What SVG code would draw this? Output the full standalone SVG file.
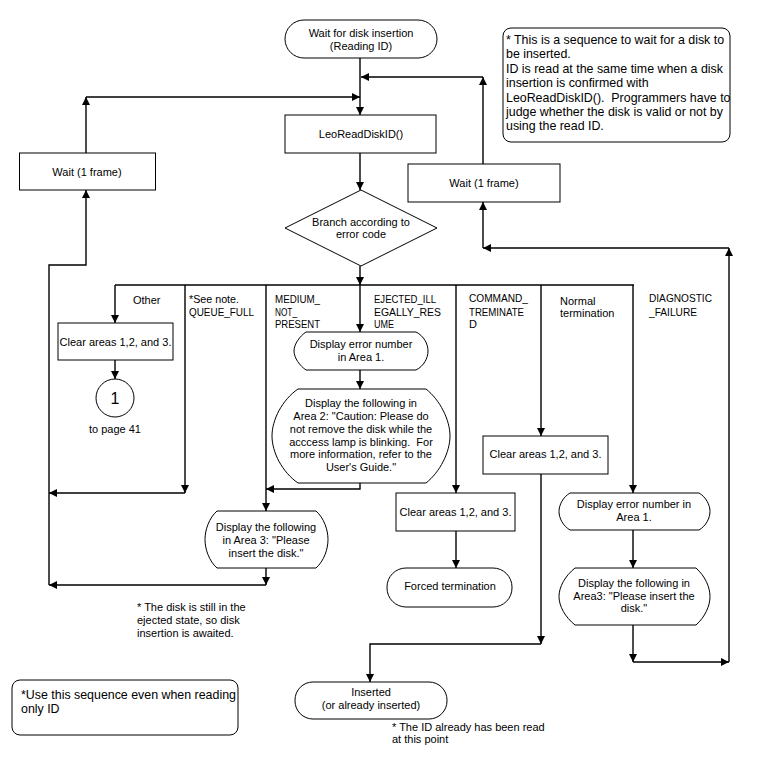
<svg xmlns="http://www.w3.org/2000/svg" width="757" height="763" viewBox="0 0 757 763">
<style>
.s{fill:#fff;stroke:#000;stroke-width:1}
.c{fill:none;stroke:#000;stroke-width:1.4}
.t{font-family:"Liberation Sans",Arial,sans-serif;font-size:11px;fill:#000}
.m{text-anchor:middle}
.n{font-family:"Liberation Sans",Arial,sans-serif;font-size:12.4px;fill:#000}
</style>
<defs>
<marker id="a" markerUnits="userSpaceOnUse" markerWidth="9" markerHeight="8" refX="8" refY="4" orient="auto">
<path d="M0,0 L8,4 L0,8 Z" fill="#000"/>
</marker>
</defs>
<rect width="757" height="763" fill="#fff"/>
<g id="connectors">
<path class="c" d="M360,58 V115" marker-end="url(#a)"/>
<path class="c" d="M483,164 V77" marker-end="url(#a)"/>
<path class="c" d="M483,77 H361" marker-end="url(#a)"/>
<path class="c" d="M86,153 V97" marker-end="url(#a)"/>
<path class="c" d="M86,97 H360" marker-end="url(#a)"/>
<path class="c" d="M360,153 V190" marker-end="url(#a)"/>
<path class="c" d="M360,266 V285" marker-end="url(#a)"/>
<path class="c" d="M115,285 H634"/>
<path class="c" d="M115,285 V323" marker-end="url(#a)"/>
<path class="c" d="M115,360 V379" marker-end="url(#a)"/>
<path class="c" d="M185,285 V493" marker-end="url(#a)"/>
<path class="c" d="M185,493 H49" marker-end="url(#a)"/>
<path class="c" d="M266,285 V511" marker-end="url(#a)"/>
<path class="c" d="M360,285 V332" marker-end="url(#a)"/>
<path class="c" d="M360,370 V389" marker-end="url(#a)"/>
<path class="c" d="M360,483 V489 H266" marker-end="url(#a)"/>
<path class="c" d="M266,568 V585" marker-end="url(#a)"/>
<path class="c" d="M266,585 H49" marker-end="url(#a)"/>
<path class="c" d="M49,585 V265 H86 V190" marker-end="url(#a)"/>
<path class="c" d="M456,285 V493" marker-end="url(#a)"/>
<path class="c" d="M456,531 V568" marker-end="url(#a)"/>
<path class="c" d="M541,285 V436" marker-end="url(#a)"/>
<path class="c" d="M541,474 V644" marker-end="url(#a)"/>
<path class="c" d="M541,644 H370 V682" marker-end="url(#a)"/>
<path class="c" d="M633,285 V493" marker-end="url(#a)"/>
<path class="c" d="M633,530 V568" marker-end="url(#a)"/>
<path class="c" d="M633,625 V662" marker-end="url(#a)"/>
<path class="c" d="M633,662 H729" marker-end="url(#a)"/>
<path class="c" d="M729,662 V248" marker-end="url(#a)"/>
<path class="c" d="M729,248 H483" marker-end="url(#a)"/>
<path class="c" d="M483,248 V202" marker-end="url(#a)"/>
</g>
<g id="start">
<rect class="s" x="285" y="20" width="152" height="38" rx="19"/>
<text class="t m" x="361" y="37">Wait for disk insertion</text>
<text class="t m" x="361" y="50">(Reading ID)</text>
</g>
<g id="note-top">
<rect class="s" x="503" y="28" width="227" height="114" rx="8"/>
<text class="n" x="506" y="44">* This is a sequence to wait for a disk to</text>
<text class="n" x="506" y="58.4">be inserted.</text>
<text class="n" x="506" y="72.8">ID is read at the same time when a disk</text>
<text class="n" x="506" y="87.2">insertion is confirmed with</text>
<text class="n" x="506" y="101.6" xml:space="preserve">LeoReadDiskID().  Programmers have to</text>
<text class="n" x="506" y="116">judge whether the disk is valid or not by</text>
<text class="n" x="506" y="130.4">using the read ID.</text>
</g>
<g id="read">
<rect class="s" x="285" y="115" width="151" height="38"/>
<text class="t m" x="361" y="138">LeoReadDiskID()</text>
</g>
<g id="wait-left">
<rect class="s" x="19.5" y="153" width="136" height="37"/>
<text class="t m" x="87" y="176">Wait (1 frame)</text>
</g>
<g id="wait-right">
<rect class="s" x="408" y="164" width="152" height="38"/>
<text class="t m" x="484" y="187">Wait (1 frame)</text>
</g>
<g id="branch">
<polygon class="s" points="361,190 437,228 361,266 285,228"/>
<text class="t m" x="361" y="226">Branch according to</text>
<text class="t m" x="361" y="238">error code</text>
</g>
<g id="labels">
<text class="t" x="133" y="304">Other</text>
<text class="t" x="189" y="303" textLength="50" lengthAdjust="spacingAndGlyphs">*See note.</text>
<text class="t" x="189" y="316" textLength="65" lengthAdjust="spacingAndGlyphs">QUEUE_FULL</text>
<text class="t" x="275" y="303" textLength="45" lengthAdjust="spacingAndGlyphs">MEDIUM_</text>
<text class="t" x="275" y="316" textLength="22" lengthAdjust="spacingAndGlyphs">NOT_</text>
<text class="t" x="275" y="328" textLength="45" lengthAdjust="spacingAndGlyphs">PRESENT</text>
<text class="t" x="374" y="303" textLength="62" lengthAdjust="spacingAndGlyphs">EJECTED_ILL</text>
<text class="t" x="374" y="316" textLength="67" lengthAdjust="spacingAndGlyphs">EGALLY_RES</text>
<text class="t" x="374" y="328" textLength="20" lengthAdjust="spacingAndGlyphs">UME</text>
<text class="t" x="469" y="302" textLength="59" lengthAdjust="spacingAndGlyphs">COMMAND_</text>
<text class="t" x="469" y="316" textLength="55" lengthAdjust="spacingAndGlyphs">TREMINATE</text>
<text class="t" x="469" y="328">D</text>
<text class="t" x="560" y="305">Normal</text>
<text class="t" x="560" y="317">termination</text>
<text class="t" x="649" y="302" textLength="63" lengthAdjust="spacingAndGlyphs">DIAGNOSTIC</text>
<text class="t" x="649" y="316" textLength="48" lengthAdjust="spacingAndGlyphs">_FAILURE</text>
</g>
<g id="clear-other">
<rect class="s" x="58" y="323" width="115" height="37"/>
<text class="t m" x="115.5" y="346">Clear areas 1,2, and 3.</text>
</g>
<g id="page-connector">
<circle class="s" cx="115" cy="398" r="19"/>
<text class="t m" x="115" y="404" style="font-size:16px">1</text>
<text class="t m" x="115" y="433">to page 41</text>
</g>
<g id="disp-err-1">
<path class="s" d="M306,332 H416 C424,336 428,344 428,351 C428,358 424,366 416,370 H306 C300,366 294,358 294,351 C294,344 300,336 306,332 Z"/>
<text class="t m" x="361" y="348">Display error number</text>
<text class="t m" x="361" y="361">in Area 1.</text>
</g>
<g id="disp-area2">
<path class="s" d="M298,389 H426 C440,400 450,420 450,436 C450,452 440,472 426,483 H298 C282,472 272,452 272,436 C272,420 282,400 298,389 Z"/>
<text class="t m" x="361" y="407">Display the following in</text>
<text class="t m" x="361" y="420">Area 2: "Caution: Please do</text>
<text class="t m" x="361" y="433">not remove the disk while the</text>
<text class="t m" x="361" y="446" xml:space="preserve">acccess lamp is blinking.  For</text>
<text class="t m" x="361" y="458">more information, refer to the</text>
<text class="t m" x="361" y="471">User's Guide."</text>
</g>
<g id="disp-area3-left">
<path class="s" d="M217,511 H316 C324,518 328,530 328,539.5 C328,549 324,561 316,568 H217 C209,561 205,549 205,539.5 C205,530 209,518 217,511 Z"/>
<text class="t m" x="266" y="531">Display the following</text>
<text class="t m" x="266" y="544">in Area 3: "Please</text>
<text class="t m" x="266" y="557">insert the disk."</text>
</g>
<g id="clear-cmd">
<rect class="s" x="396" y="493" width="119" height="38"/>
<text class="t m" x="455.5" y="516">Clear areas 1,2, and 3.</text>
</g>
<g id="forced">
<rect class="s" x="387" y="568" width="125" height="39" rx="19"/>
<text class="t m" x="450" y="590">Forced termination</text>
</g>
<g id="clear-normal">
<rect class="s" x="483" y="436" width="125" height="38"/>
<text class="t m" x="545.5" y="458">Clear areas 1,2, and 3.</text>
</g>
<g id="disp-err-diag">
<path class="s" d="M570,493 H699 C706,497 710,505 710,511.5 C710,518 706,526 699,530 H570 C563,526 559,518 559,511.5 C559,505 563,497 570,493 Z"/>
<text class="t m" x="634" y="508">Display error number in</text>
<text class="t m" x="634" y="521">Area 1.</text>
</g>
<g id="disp-area3-diag">
<path class="s" d="M575,568 H696 C705,576 710,587 710,596.5 C710,606 705,617 696,625 H575 C565,617 559,606 559,596.5 C559,587 565,576 575,568 Z"/>
<text class="t m" x="634" y="587">Display the following in</text>
<text class="t m" x="634" y="600">Area3: "Please insert the</text>
<text class="t m" x="634" y="612">disk."</text>
</g>
<g id="inserted">
<rect class="s" x="295" y="682" width="152" height="37" rx="18"/>
<text class="t m" x="371" y="696">Inserted</text>
<text class="t m" x="371" y="709">(or already inserted)</text>
</g>
<g id="notes">
<text class="t" x="392" y="731">* The ID already has been read</text>
<text class="t" x="392" y="743">at this point</text>
<text class="t" x="137" y="611">* The disk is still in the</text>
<text class="t" x="137" y="624">ejected state, so disk</text>
<text class="t" x="137" y="637">insertion is awaited.</text>
</g>
<g id="note-bottom">
<rect class="s" x="12" y="680" width="226" height="55" rx="8"/>
<text class="n" x="21" y="699">*Use this sequence even when reading</text>
<text class="n" x="21" y="713">only ID</text>
</g>
</svg>
